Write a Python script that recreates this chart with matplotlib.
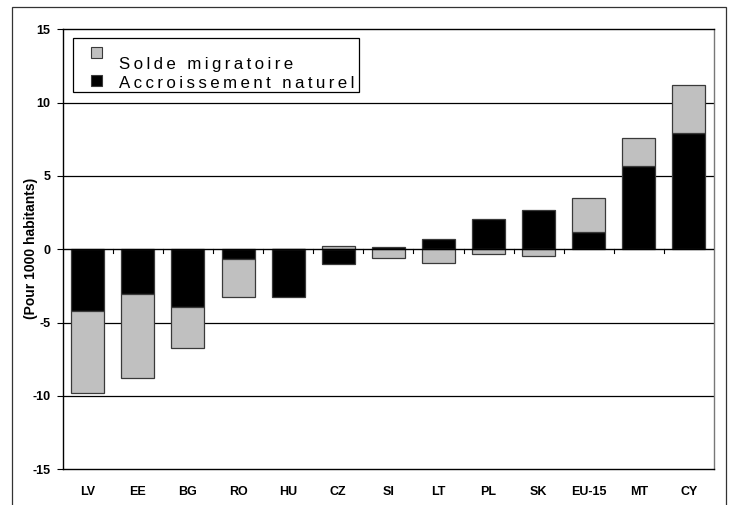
import matplotlib
matplotlib.use("Agg")
import matplotlib.pyplot as plt
from matplotlib.patches import Rectangle
import numpy as np

plt.rcParams['font.family'] = ['Liberation Sans', 'DejaVu Sans']

categories = ["LV", "EE", "BG", "RO", "HU", "CZ", "SI", "LT", "PL", "SK", "EU-15", "MT", "CY"]
accroissement = [-4.2, -3.05, -3.95, -0.65, -3.25, -1.0, 0.18, 0.68, 2.05, 2.65, 1.15, 5.7, 7.9]
solde = [-5.6, -5.7, -2.8, -2.6, 0.0, 0.22, -0.6, -0.9, -0.35, -0.48, 2.35, 1.9, 3.3]
yticks = [-15, -10, -5, 0, 5, 10, 15]
series_labels = ['Solde migratoire', 'Accroissement naturel']
series_colors = ['#c0c0c0', 'black']

THIN = '\u2009'
def spaced(s):
    return THIN.join(list(s))

W, H = 730, 505
def fx(px):
    return px / W
def fy(py):
    return 1 - py / H

fig = plt.figure(figsize=(W / 100, H / 100), dpi=100)
fig.patches.append(Rectangle((fx(12), -0.1), fx(726) - fx(12), fy(7) + 0.1,
                             transform=fig.transFigure, fill=False,
                             edgecolor='#333333', linewidth=0.9))
ax = fig.add_axes([fx(62.7), fy(469.3), fx(714) - fx(62.7), fy(29.3) - fy(469.3)])

x = np.arange(len(categories))
width = 0.66
acc = np.array(accroissement)
sol = np.array(solde)
pos_base = np.zeros(len(x))
neg_base = np.zeros(len(x))
EDGE = '#3a3a3a'

def stack(vals, color):
    bottoms = np.where(vals >= 0, pos_base, neg_base)
    ax.bar(x, vals, width, bottom=bottoms, color=color, edgecolor=EDGE,
           linewidth=0.9, zorder=3)
    pos_base[:] = pos_base + np.where(vals >= 0, vals, 0)
    neg_base[:] = neg_base + np.where(vals < 0, vals, 0)

stack(acc, series_colors[1])
stack(sol, series_colors[0])

ax.set_xlim(-0.5, len(categories) - 0.5)
ax.set_ylim(-15, 15)
ax.set_yticks(yticks)
ax.set_yticklabels([str(v) for v in yticks], fontweight='bold', fontsize=9)
for v in yticks[1:-1]:
    if v != 0:
        ax.axhline(v, color='black', linewidth=0.9, zorder=1)
ax.axhline(0, color='black', linewidth=1.0, zorder=4)
for b in x[:-1] + 0.5:
    ax.plot([b, b], [0, -0.25], color='black', linewidth=0.8, zorder=4, clip_on=False)

ax.set_xticks(x)
ax.set_xticklabels(categories, fontweight='bold', fontsize=9)
ax.tick_params(axis='x', length=0, pad=12)
ax.tick_params(axis='y', length=4.3, width=0.8, pad=4.5, direction='out')
ax.set_ylabel('(Pour 1000 habitants)', fontweight='bold', fontsize=10)
ax.yaxis.set_label_coords(fx(38), fy(248), transform=fig.transFigure)

for s in ['left', 'top', 'bottom']:
    ax.spines[s].set_color('black')
    ax.spines[s].set_linewidth(1.0)
ax.spines['right'].set_color('#777777')
ax.spines['right'].set_linewidth(1.0)

# legend box (Excel-style layout)
fig.patches.append(Rectangle((fx(72.5), fy(92)), fx(359) - fx(72.5), fy(38) - fy(92),
                             transform=fig.transFigure, facecolor='white',
                             edgecolor='black', linewidth=0.9, zorder=5))
square_tops = [47, 75]
baselines = [69, 88.5]
SQ = 10.5
for lab, col, st, bl in zip(series_labels, series_colors, square_tops, baselines):
    fig.patches.append(Rectangle((fx(91), fy(st + SQ)), fx(SQ), fy(0) - fy(SQ),
                                 transform=fig.transFigure, facecolor=col,
                                 edgecolor=EDGE, linewidth=0.8, zorder=6))
    fig.text(fx(119), fy(bl), spaced(lab), fontsize=12.2, va='baseline', ha='left',
             zorder=6)

fig.savefig('out.png', dpi=100)
